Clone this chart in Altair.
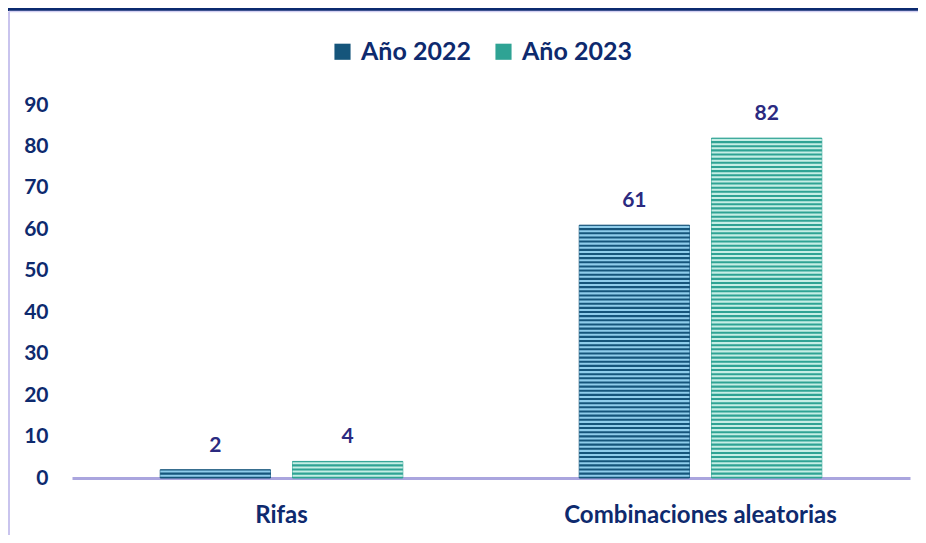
import altair as alt
import pandas as pd

categories = ["Rifas", "Combinaciones aleatorias"]
years = ["Año 2022", "Año 2023"]
values_2022 = [2, 61]
values_2023 = [4, 82]

rows = []
for i, c in enumerate(categories):
    rows.append({"cat": c, "year": years[0], "value": values_2022[i]})
    rows.append({"cat": c, "year": years[1], "value": values_2023[i]})
df = pd.DataFrame(rows)

FONT = "Lato"
NAVY = "#0e2a6e"
LABEL = "#2b2a80"
dark = ["#15557b", "#2fa394"]
light = ["#8fcdeb", "#c6eee5"]

x_enc = alt.X("cat:N", sort=categories, title=None,
              scale=alt.Scale(paddingInner=0, paddingOuter=0),
              axis=alt.Axis(labelAngle=0, labelFont=FONT, labelFontSize=24, labelFontWeight="bold",
                            labelColor=NAVY, labelPadding=25, ticks=False, labelLimit=0,
                            domainColor="#aaa5de", domainWidth=3, grid=False))
xo_enc = alt.XOffset("year:N", sort=years,
                     scale=alt.Scale(paddingInner=0.1667, paddingOuter=0.667))
y_axis = alt.Axis(values=list(range(0, 91, 10)), labelFont=FONT, labelFontSize=21,
                  labelFontWeight="bold", labelColor=NAVY, labelPadding=24,
                  domain=False, ticks=False, grid=False)
y_scale = alt.Scale(domain=[0, 90], nice=False)
y_enc = alt.Y("value:Q", title=None, scale=y_scale, axis=y_axis)

base = alt.Chart(df)

bars = base.mark_bar(strokeWidth=1).encode(
    x=x_enc, xOffset=xo_enc, y=y_enc,
    color=alt.Color("year:N", sort=years,
                    scale=alt.Scale(domain=years, range=dark),
                    legend=alt.Legend(title=None, orient="none", direction="horizontal",
                                      legendX=258, legendY=-66, symbolType="square",
                                      symbolSize=260, symbolStrokeWidth=0,
                                      labelFont=FONT, labelFontSize=25, labelFontWeight="bold",
                                      labelColor=NAVY, columnPadding=20, symbolOffset=0,
                                      labelOffset=6, labelLimit=0)),
    stroke=alt.Stroke("year:N", scale=alt.Scale(domain=years, range=dark), legend=None),
)

stripes = base.transform_calculate(
    s="sequence(0.3, datum.value, 1)"
).transform_flatten(["s"]).transform_calculate(
    s2="min(datum.s + 0.5, datum.value)"
).mark_bar(strokeWidth=0).encode(
    x=x_enc, xOffset=xo_enc,
    y=alt.Y("s:Q", scale=y_scale, title=None, axis=y_axis),
    y2="s2:Q",
    color=alt.condition(alt.datum.year == years[0], alt.value(light[0]), alt.value(light[1])),
)

texts = base.mark_text(baseline="bottom", dy=-14, font=FONT, fontSize=21,
                       fontWeight="bold", color=LABEL).encode(
    x=x_enc, xOffset=xo_enc, y=y_enc, text="value:Q")

deco = pd.DataFrame({"a": [0]})
top_band = alt.Chart(deco).mark_rule(color="#0b2a6f", strokeWidth=4).encode(
    x=alt.value(-70), x2=alt.value(860), y=alt.value(-96))
top_line = alt.Chart(deco).mark_rule(color="#d4d0f2", strokeWidth=1.5).encode(
    x=alt.value(-63), x2=alt.value(860), y=alt.value(-93.5))
left_line = alt.Chart(deco).mark_rule(color="#c9c4ee", strokeWidth=2).encode(
    x=alt.value(-63), y=alt.value(-93.5), y2=alt.value(440))

chart = alt.layer(bars, stripes, texts, top_band, top_line, left_line).properties(
    width=838, height=373,
    background="white",
    autosize=alt.AutoSizeParams(type="none"),
    padding={"left": 64, "top": 97, "right": 8, "bottom": 57},
).configure_view(stroke=None)

chart.save("out.html", embed_options={"renderer": "svg", "actions": False})
